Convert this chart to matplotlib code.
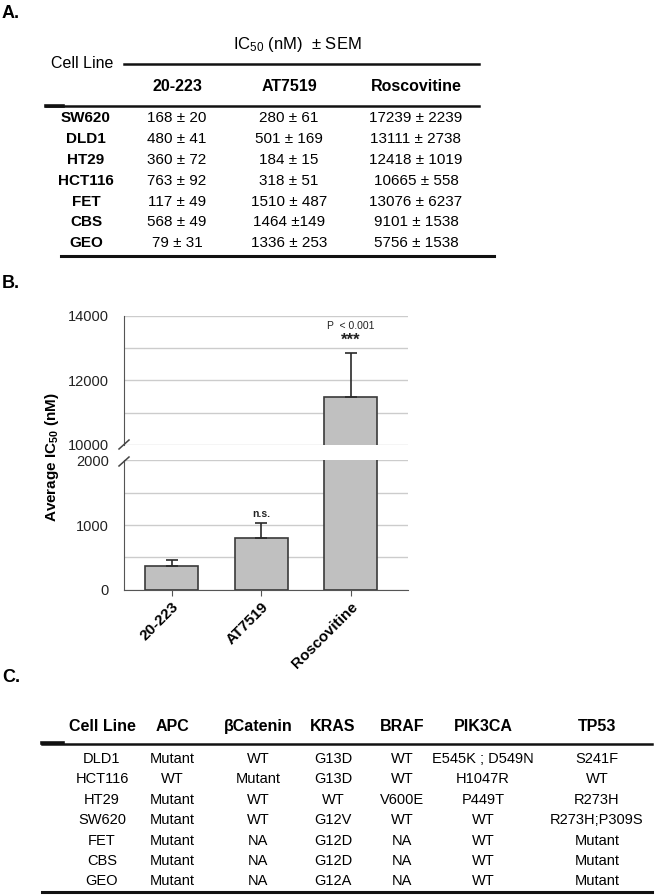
import numpy as np
import matplotlib.pyplot as plt
from matplotlib.lines import Line2D

plt.rcParams['font.family'] = ['Liberation Sans', 'DejaVu Sans']
plt.rcParams['mathtext.default'] = 'regular'

# Table A data
cell_lines_a = ["SW620", "DLD1", "HT29", "HCT116", "FET", "CBS", "GEO"]
drugs = ["20-223", "AT7519", "Roscovitine"]
ic50_20223 = ["168 ± 20", "480 ± 41", "360 ± 72", "763 ± 92", "117 ± 49", "568 ± 49", "79 ± 31"]
ic50_at7519 = ["280 ± 61", "501 ± 169", "184 ± 15", "318 ± 51", "1510 ± 487", "1464 ±149", "1336 ± 253"]
ic50_rosco = ["17239 ± 2239", "13111 ± 2738", "12418 ± 1019", "10665 ± 558",
              "13076 ± 6237", "9101 ± 1538", "5756 ± 1538"]

# Panel B data
avg_ic50 = [362, 805, 11490]
avg_sem = [90, 222, 1355]
sig_labels = ["", "n.s.", "***"]

# Table C data
cell_lines_c = ["DLD1", "HCT116", "HT29", "SW620", "FET", "CBS", "GEO"]
genes = ["Cell Line", "APC", "βCatenin", "KRAS", "BRAF", "PIK3CA", "TP53"]
apc = ["Mutant", "WT", "Mutant", "Mutant", "Mutant", "Mutant", "Mutant"]
bcat = ["WT", "Mutant", "WT", "WT", "NA", "NA", "NA"]
kras = ["G13D", "G13D", "WT", "G12V", "G12D", "G12D", "G12A"]
braf = ["WT", "WT", "V600E", "WT", "NA", "NA", "NA"]
pik3ca = ["E545K ; D549N", "H1047R", "P449T", "WT", "WT", "WT", "WT"]
tp53 = ["S241F", "WT", "R273H", "R273H;P309S", "Mutant", "Mutant", "Mutant"]

W, H = 655, 896
fig = plt.figure(figsize=(W / 100, H / 100), dpi=100)


def px(x, y):
    return x / W, 1 - y / H


def txt(x, y, s, **kw):
    kw.setdefault('ha', 'center')
    kw.setdefault('va', 'center')
    fig.text(*px(x, y), s, **kw)


def hline(x0, x1, y, lw=1.5, color='#111111'):
    (a, b), (c, _) = px(x0, y), px(x1, y)
    fig.add_artist(Line2D([a, c], [b, b], lw=lw, color=color, transform=fig.transFigure))


# panel letters
txt(2, 13, "A.", ha='left', fontsize=13, fontweight='bold')
txt(2, 283, "B.", ha='left', fontsize=13, fontweight='bold')
txt(2, 677, "C.", ha='left', fontsize=13, fontweight='bold')

# ---- Table A ----
txt(297, 45, r"IC$_{50}$ (nM)  ± SEM", fontsize=12)
txt(51, 63.5, "Cell Line", ha='left', fontsize=11.5)
hline(124, 479, 64.5, lw=1.8)
col_x = [177, 289, 416]
for cx, d in zip(col_x, drugs):
    txt(cx, 86.7, d, fontsize=11.5, fontweight='bold')
hline(46, 479, 106.5, lw=1.8)
hline(46, 63, 106.0, lw=2.6)
for i, name in enumerate(cell_lines_a):
    y = 118.3 + 20.83 * i
    txt(86, y, name, fontsize=11, fontweight='bold')
    for cx, col in zip(col_x, [ic50_20223, ic50_at7519, ic50_rosco]):
        txt(cx, y, col[i], fontsize=11)
hline(61, 494, 256.5, lw=2.2)

# ---- Panel B: broken-axis bar chart ----
ax_up = fig.add_axes([124 / W, 1 - 445 / H, 284 / W, 129.3 / H])
ax_lo = fig.add_axes([124 / W, 1 - 589.7 / H, 284 / W, 129.4 / H])
x = np.arange(len(drugs))
for ax in (ax_up, ax_lo):
    ax.bar(x, avg_ic50, width=0.59, color='#c0c0c0', edgecolor='#3a3a3a', linewidth=1.2, zorder=3)
    ax.errorbar(x, avg_ic50, yerr=[np.zeros(len(x)), avg_sem], fmt='none',
                ecolor='#2a2a2a', elinewidth=1.2, capsize=4, capthick=1.2, zorder=4)
    ax.set_xlim(-0.533, 2.64)
    for s in ('top', 'right'):
        ax.spines[s].set_visible(False)
    ax.spines['left'].set_color('#555555')
    ax.grid(axis='y', which='both', color='#cccccc', lw=1, zorder=0)
    ax.tick_params(axis='y', which='both', length=0, pad=11, labelsize=10.5, labelcolor='#222222')

ax_up.set_ylim(10000, 14000)
ax_up.set_yticks([10000, 12000, 14000])
ax_up.set_yticks([11000, 13000], minor=True)
ax_up.spines['bottom'].set_visible(False)
ax_up.set_xticks([])

ax_lo.set_ylim(0, 2000)
ax_lo.set_yticks([0, 1000, 2000])
ax_lo.set_yticks([500, 1500], minor=True)
ax_lo.spines['bottom'].set_color('#555555')
ax_lo.set_xticks(x)
ax_lo.set_xticklabels(drugs, rotation=45, ha='right', rotation_mode='anchor',
                      fontsize=11, fontweight='bold')
ax_lo.tick_params(axis='x', length=4, color='#555555', pad=3)

# significance labels
for xi, m, e, lab in zip(x, avg_ic50, avg_sem, sig_labels):
    if not lab:
        continue
    ax = ax_up if m + e > 2000 else ax_lo
    size = 12 if lab == "***" else 7.5
    ax.annotate(lab, (xi, m + e), xytext=(0, 3 if lab != "***" else 4), textcoords='offset points',
                ha='center', va='bottom', fontsize=size, fontweight='bold', color='#222222')
    if lab == "***":
        ax.annotate("P  < 0.001", (xi, m + e), xytext=(0, 16), textcoords='offset points',
                    ha='center', va='bottom', fontsize=7.5, color='#222222')

# break marks on the left spine
for y0, y1 in [(449, 440), (466, 457)]:
    (a, b), (c, d) = px(119, y0), px(129, y1)
    fig.add_artist(Line2D([a, c], [b, d], lw=1.1, color='#444444', transform=fig.transFigure))

txt(52, 457, r"Average IC$_{50}$ (nM)", rotation=90, fontsize=11, fontweight='bold')

# ---- Table C ----
col_c = [102, 172, 258, 333, 402, 483, 597]
for cx, g in zip(col_c, genes):
    txt(cx, 726.7, g, fontsize=11.5, fontweight='bold')
hline(42, 652, 743.8, lw=1.8)
hline(42, 63, 743.3, lw=2.6)
columns = [cell_lines_c, apc, bcat, kras, braf, pik3ca, tp53]
for i in range(len(cell_lines_c)):
    y = 759 + 20.4 * i
    for cx, col in zip(col_c, columns):
        txt(cx, y, col[i], fontsize=10.5)
hline(42, 652, 892, lw=2.2)

fig.savefig("out.png", dpi=100, facecolor='white')
